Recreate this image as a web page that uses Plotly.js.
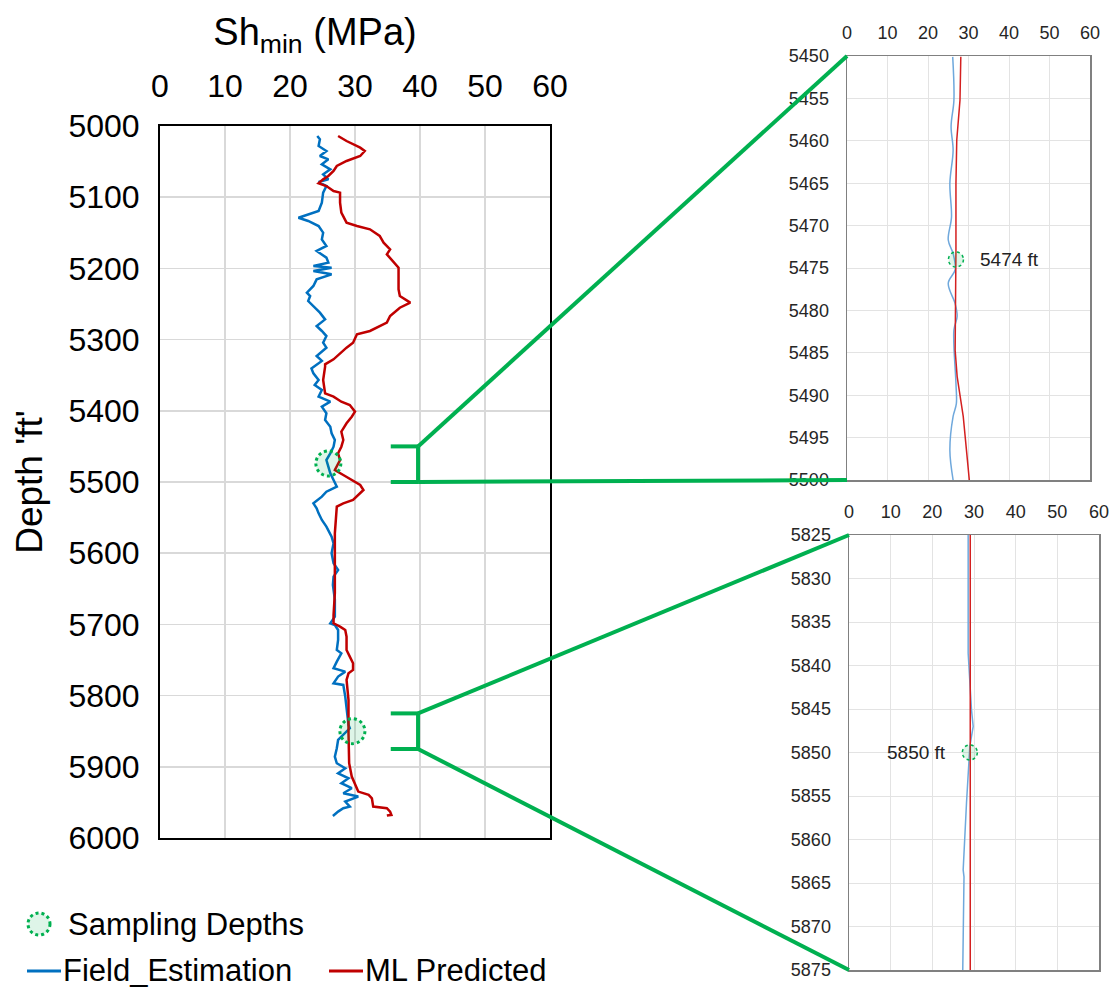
<!DOCTYPE html>
<html>
<head>
<meta charset="utf-8">
<script src="https://cdn.plot.ly/plotly-3.0.1.min.js"></script>
<style>html,body{margin:0;padding:0;background:#fff;}#chart{width:1115px;height:994px;}</style>
</head>
<body>
<div id="chart"></div>
<script>
// ---------- DATA ----------
// Main track: Field estimation (blue)
const fieldDepth = [5014,5018.7,5028.1,5035.1,5042.1,5046.8,5053.8,5060.9,5067.9,5074.9,5078.7,5084.3,5093.6,5107.7,5119.4,5128.8,5133.4,5140.5,5149.8,5159.2,5168.5,5175.5,5184.9,5191.9,5196.6,5199,5203.7,5208.3,5215.4,5224.7,5234.1,5238.8,5245.8,5255.2,5262.2,5271.6,5280.9,5287.9,5295,5304.3,5311.3,5323,5330,5340.4,5347.4,5356.8,5363.8,5370.8,5380.2,5387.2,5394.2,5403.6,5412.9,5422.3,5431.7,5441,5450.4,5459.7,5469.1,5478.5,5487.8,5497.2,5506.5,5513.6,5520.6,5530,5537,5544,5553.3,5562.7,5576.7,5586.1,5600.1,5614.2,5623.5,5632.9,5644.6,5665,5689.1,5698.5,5700.8,5707.8,5721.9,5735.9,5740.6,5752.3,5761.6,5766.3,5773.3,5782.7,5785,5801.4,5820.1,5841.2,5845.9,5850.6,5862.3,5874,5885.7,5895,5902.1,5909.1,5916.1,5923.1,5930.1,5937.1,5941.8,5948.8,5955.9,5958.2,5962.9,5969];
const fieldShmin = [24.2,24.6,24.4,25.6,24.6,25.9,24.9,26.2,25.1,25.9,24.4,25.6,25.1,24.9,24.4,21.3,22.8,24.4,25.1,24.9,25.6,24.1,25.6,25.9,23.6,26.4,23.6,26.4,24.1,23.6,22.6,23.1,22.8,23.8,24.6,25.4,24.1,24.9,25.6,25.1,25.6,24.1,24.9,23.3,23.6,24.4,23.8,24.9,24.4,26.2,24.9,25.6,25.4,26.2,26.4,26.9,26.7,26.2,25.6,25.9,26.2,26.7,27.2,25.6,24.9,23.6,24.1,24.4,24.9,25.6,26.4,26.7,26.4,26.7,27.4,26.7,26.6,26.9,26.9,26.2,26.9,27.4,27.4,27.2,27.9,27.2,26.7,28.5,27.4,26.7,28.2,28.5,28.7,29.0,29.2,28.7,27.4,27.2,26.9,27.2,28.5,27.4,29.0,27.9,29.5,28.2,30.5,28.5,29.2,28.2,27.4,26.6];
// Main track: ML predicted (red)
const mlDepth = [5014,5021.1,5030.4,5035.1,5042.1,5049.1,5056.2,5063.2,5070.2,5074.9,5080.5,5084.3,5091.3,5093.6,5107.7,5121.7,5135.7,5140.4,5145.1,5154.4,5163.8,5173.2,5180.2,5187.2,5199,5210.7,5229.4,5238.8,5248.1,5255.2,5266.9,5276.2,5280.9,5287.9,5292.6,5304.3,5311.3,5318.3,5327.7,5334.7,5338.1,5356.8,5375.5,5380.2,5387.2,5391.9,5401.2,5408.3,5417.6,5429.3,5441,5450.4,5459.7,5469.1,5483.1,5490.2,5497.2,5504.2,5511.2,5518.2,5525.3,5530,5534.6,5572.1,5609.5,5656.3,5686.8,5698.5,5703.1,5707.8,5717.2,5735.9,5745.3,5754.6,5764,5768.7,5778,5806.1,5852.9,5895,5913.7,5923.1,5934.8,5939.5,5944.2,5955.9,5958.2,5962.9,5967.6,5968.5];
const mlShmin = [27.4,28.7,30.8,31.5,30.8,28.7,27.2,26.7,25.9,25.1,24.4,25.6,26.7,27.7,27.7,27.9,28.7,30.3,32.3,33.8,34.4,35.4,34.9,35.6,36.7,36.7,36.7,36.9,38.5,36.9,35.4,34.9,33.8,32.3,30.3,29.7,28.7,27.9,26.7,25.4,25.4,25.1,25.4,26.7,27.9,29.2,30.0,29.5,28.7,27.9,28.2,27.9,27.4,27.7,26.9,28.2,29.5,30.8,31.3,30.5,29.7,28.2,27.2,26.9,26.9,26.9,26.7,26.7,27.7,28.5,28.7,28.7,29.2,29.7,29.7,29.0,28.7,29.0,29.0,29.1,29.5,30.0,30.5,32.1,32.6,32.8,34.9,35.4,35.6,34.9];

// Zoom 1 (5450-5500 ft)
const zoom1FieldDepth = [5450.1,5455.2,5458.3,5461.1,5465,5469,5471.7,5473.3,5475.2,5476.8,5479.2,5480.7,5482.3,5488.6,5491,5492.5,5496.5,5500];
const zoom1FieldShmin = [26.1,26.4,25.7,26.2,25.4,25.8,25.0,26.2,26.7,25.0,26.7,27.2,26.4,26.9,27.0,26.2,25.4,26.2];
const zoom1MlDepth = [5450.1,5455.2,5459.9,5465,5472.9,5479.2,5484.7,5487.8,5492.5,5496.5,5500];
const zoom1MlShmin = [28.1,27.9,27.1,26.9,26.9,26.7,26.7,27.2,28.7,29.5,30.2];

// Zoom 2 (5825-5875 ft)
const zoom2FieldDepth = [5825,5838.6,5845.1,5847,5849.3,5852,5855.8,5863.5,5864.3,5875];
const zoom2FieldShmin = [28.6,28.6,29.4,29.8,29.0,28.6,28.2,27.4,27.6,27.3];
const zoom2MlDepth = [5825,5840,5850,5860,5875];
const zoom2MlShmin = [29.1,29.1,29.1,29.1,29.1];

// Sampling depths
const sampleDepths = [5474, 5850];
const sampleMainShmin = [25.9, 29.6];
const sampleZoomShmin = [26.9, 29.0];
const sampleLabels = ['5474 ft', '5850 ft'];
const zoomRanges = [[5450, 5500], [5825, 5875]];

// x tick values
const xTicks = [0,10,20,30,40,50,60];

// ---------- LAYOUT GEOMETRY ----------
const W = 1115, H = 994;
const boxes = {
  main: {l:160, r:550, t:126, b:838, x:[0,60], y:[5000,6000]},
  z1:   {l:847, r:1090, t:56, b:480, x:[0,60], y:zoomRanges[0]},
  z2:   {l:849, r:1099, t:535, b:970, x:[0,60], y:zoomRanges[1]}
};
function px(b, v){ return b.l + (v - b.x[0])/(b.x[1]-b.x[0])*(b.r-b.l); }
function py(b, d){ return b.t + (d - b.y[0])/(b.y[1]-b.y[0])*(b.b-b.t); }
function pX(p){ return p/W; }
function pY(p){ return 1 - p/H; }
function dom(b){ return {x:[b.l/W, b.r/W], y:[1-b.b/H, 1-b.t/H]}; }

const FONT = 'Liberation Sans, Arial, sans-serif';
const BLUE = '#0070c0', RED = '#c00000', GREEN = '#00b050';
const BLUE_L = '#6fa8dc', RED_L = '#d42020';

const traces = [
  {x: fieldShmin, y: fieldDepth, xaxis:'x', yaxis:'y', mode:'lines', name:'Field_Estimation', line:{color:BLUE, width:2.5}, showlegend:false},
  {x: mlShmin, y: mlDepth, xaxis:'x', yaxis:'y', mode:'lines', name:'ML Predicted', line:{color:RED, width:2.5}, showlegend:false},
  {x: zoom1FieldShmin, y: zoom1FieldDepth, xaxis:'x2', yaxis:'y2', mode:'lines', name:'Field_Estimation', line:{color:BLUE_L, width:1.5, shape:'spline'}, showlegend:false},
  {x: zoom1MlShmin, y: zoom1MlDepth, xaxis:'x2', yaxis:'y2', mode:'lines', name:'ML Predicted', line:{color:RED_L, width:1.5}, showlegend:false},
  {x: zoom2FieldShmin, y: zoom2FieldDepth, xaxis:'x3', yaxis:'y3', mode:'lines', name:'Field_Estimation', line:{color:BLUE_L, width:1.5}, showlegend:false},
  {x: zoom2MlShmin, y: zoom2MlDepth, xaxis:'x3', yaxis:'y3', mode:'lines', name:'ML Predicted', line:{color:RED_L, width:1.5}, showlegend:false}
];

function xAx(b, anchor, fs, col, gw, lc, lw, tl){
  const d = dom(b);
  return {domain:d.x, anchor:anchor, side:'top', range:b.x, tickvals:xTicks, showgrid:true, gridcolor:'#d9d9d9', gridwidth:gw,
    zeroline:false, showline:true, mirror:true, linecolor:lc, linewidth:lw, ticks:'outside', ticklen:tl, tickcolor:'rgba(0,0,0,0)',
    tickfont:{family:FONT, size:fs, color:col}, fixedrange:true};
}
function yAx(b, anchor, fs, col, dt, gw, lc, lw, tl){
  const d = dom(b);
  return {domain:d.y, anchor:anchor, range:[b.y[1], b.y[0]], dtick:dt, tick0:b.y[0], showgrid:true, gridcolor:'#d9d9d9', gridwidth:gw,
    zeroline:false, showline:true, mirror:true, linecolor:lc, linewidth:lw, ticks:'outside', ticklen:tl, tickcolor:'rgba(0,0,0,0)',
    tickfont:{family:FONT, size:fs, color:col}, fixedrange:true};
}

const layout = {
  width:W, height:H, margin:{l:0,r:0,t:0,b:0}, paper_bgcolor:'#fff', plot_bgcolor:'#fff', showlegend:false,
  font:{family:FONT, color:'#000'},
  title:{text:'Sh<sub>min</sub> (MPa)', font:{family:FONT, size:38, color:'#000'}, x:315/W, xanchor:'center', xref:'paper', y:1-32/H, yanchor:'middle', yref:'container'},
  xaxis: xAx(boxes.main,'y',32,'#000',1.5,'#000',2,14),
  yaxis: Object.assign(yAx(boxes.main,'x',32,'#000',100,1.5,'#000',2,12), {title:{text:"Depth 'ft'", font:{family:FONT, size:37, color:'#000'}, standoff:14}}),
  xaxis2: xAx(boxes.z1,'y2',18,'#262626',1,'#808080',1.5,8),
  yaxis2: yAx(boxes.z1,'x2',18,'#262626',5,1,'#808080',1.5,13),
  xaxis3: xAx(boxes.z2,'y3',18,'#262626',1,'#808080',1.5,8),
  yaxis3: yAx(boxes.z2,'x3',18,'#262626',5,1,'#808080',1.5,13),
  shapes: [], annotations: []
};
layout.xaxis2.gridcolor = '#e3e3e3'; layout.yaxis2.gridcolor = '#e3e3e3';
layout.xaxis3.gridcolor = '#e3e3e3'; layout.yaxis3.gridcolor = '#e3e3e3';

// connectors and brackets
const zoomBoxes = [boxes.z1, boxes.z2];
const bracketX = [35.5, 39.7];
zoomRanges.forEach((r, i) => {
  const zb = zoomBoxes[i];
  const gl = {color:GREEN, width:4};
  layout.shapes.push({type:'line', xref:'x', yref:'y', x0:bracketX[0], x1:bracketX[1], y0:r[0], y1:r[0], line:gl});
  layout.shapes.push({type:'line', xref:'x', yref:'y', x0:bracketX[1], x1:bracketX[1], y0:r[0], y1:r[1], line:gl});
  layout.shapes.push({type:'line', xref:'x', yref:'y', x0:bracketX[0], x1:bracketX[1], y0:r[1], y1:r[1], line:gl});
  [0,1].forEach(k => {
    layout.shapes.push({type:'line', xref:'paper', yref:'paper',
      x0:pX(px(boxes.main, bracketX[1])), y0:pY(py(boxes.main, r[k])),
      x1:pX(zb.l), y1:pY(py(zb, r[k])), line:gl});
  });
});

// sampling depth circles
function circle(xref, yref, xv, yv, rad, lw){
  return {type:'circle', xref:xref, yref:yref, xsizemode:'pixel', ysizemode:'pixel', xanchor:xv, yanchor:yv,
    x0:-rad, x1:rad, y0:-rad, y1:rad, fillcolor:'rgba(0,176,80,0.13)', line:{color:GREEN, width:lw, dash:'dot'}};
}
sampleDepths.forEach((d, i) => {
  layout.shapes.push(circle('x','y', sampleMainShmin[i], d, 12.5, 3));
  const ax = i === 0 ? ['x2','y2'] : ['x3','y3'];
  layout.shapes.push(circle(ax[0], ax[1], sampleZoomShmin[i], d, 7.5, 1.5));
  layout.annotations.push({xref:ax[0], yref:ax[1], x: i===0 ? sampleZoomShmin[i]+5.5 : sampleZoomShmin[i]-5.3, y:d,
    xanchor: i===0 ? 'left':'right', yanchor:'middle', text:sampleLabels[i], showarrow:false,
    font:{family:FONT, size:19, color:'#222'}});
});

// manual legend
layout.shapes.push({type:'circle', xref:'paper', yref:'paper', x0:pX(28), x1:pX(50), y0:pY(935), y1:pY(913),
  fillcolor:'rgba(0,176,80,0.13)', line:{color:GREEN, width:3, dash:'dot'}});
layout.annotations.push({xref:'paper', yref:'paper', x:pX(66), y:pY(924), xanchor:'left', yanchor:'middle', text:'Sampling Depths', showarrow:false, font:{family:FONT, size:31, color:'#000'}});
layout.shapes.push({type:'line', xref:'paper', yref:'paper', x0:pX(27), x1:pX(61), y0:pY(971), y1:pY(971), line:{color:BLUE, width:3}});
layout.annotations.push({xref:'paper', yref:'paper', x:pX(61), y:pY(970), xanchor:'left', yanchor:'middle', text:'Field_Estimation', showarrow:false, font:{family:FONT, size:31, color:'#000'}});
layout.shapes.push({type:'line', xref:'paper', yref:'paper', x0:pX(329), x1:pX(363), y0:pY(971), y1:pY(971), line:{color:RED, width:3}});
layout.annotations.push({xref:'paper', yref:'paper', x:pX(363), y:pY(970), xanchor:'left', yanchor:'middle', text:'ML Predicted', showarrow:false, font:{family:FONT, size:31, color:'#000'}});

Plotly.newPlot('chart', traces, layout, {staticPlot:true, displayModeBar:false});
</script>
</body>
</html>
